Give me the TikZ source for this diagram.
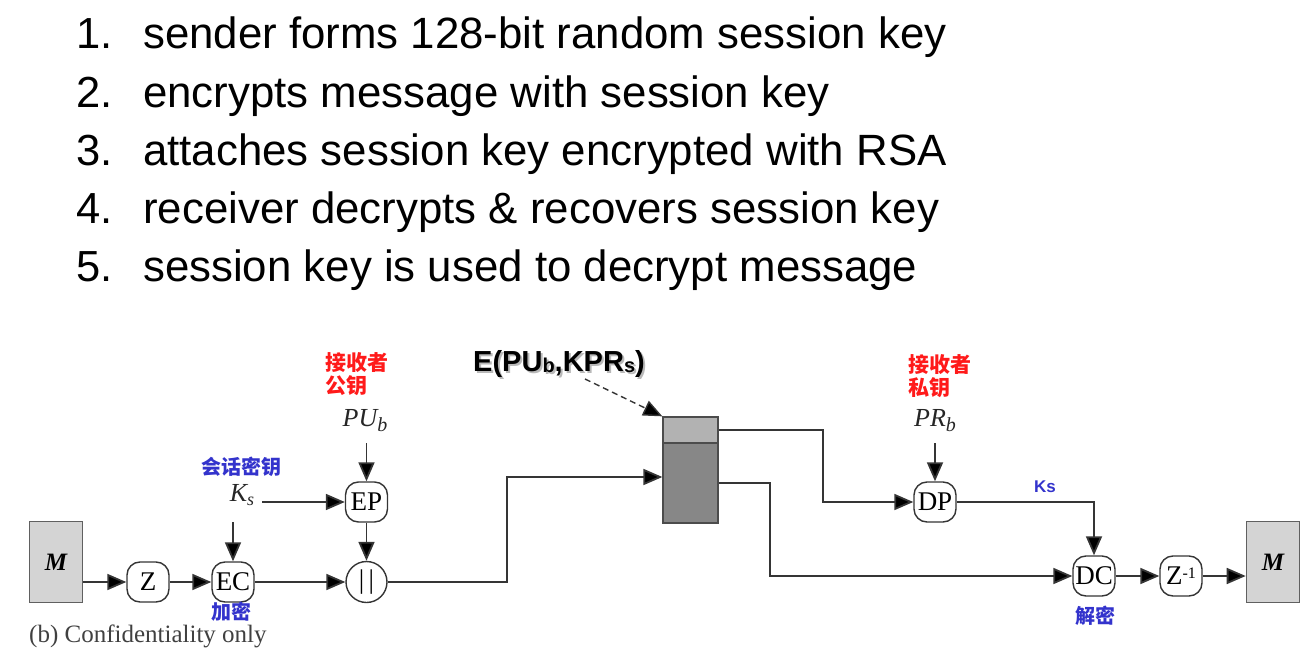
\documentclass[tikz,border=0pt]{standalone}
\usepackage{fontspec}
\setmainfont{Liberation Sans}
\newfontfamily\serif{Liberation Serif}
\newfontfamily\cjk{Noto Sans CJK SC}
\usetikzlibrary{arrows.meta,calc}
\definecolor{linegray}{HTML}{353535}
\definecolor{keyblue}{HTML}{3333CC}
\definecolor{keyred}{HTML}{FF1A1A}
\definecolor{boxgray}{HTML}{D4D4D4}
\definecolor{toplight}{HTML}{B2B2B2}
\definecolor{bodydark}{HTML}{878787}
\begin{document}
\begin{tikzpicture}[x=1pt,y=-1pt,
  listnum/.style={anchor=base west, inner sep=0pt, font=\fontsize{43.5}{50}\selectfont},
  listtxt/.style={anchor=base west, inner sep=0pt, font=\fontsize{43.8}{50}\selectfont},
  op/.style={draw=linegray, line width=1.4pt, rounded corners=13pt, fill=white,
    minimum width=42pt, minimum height=40pt, inner sep=0pt,
    font=\serif\fontsize{27}{27}\selectfont},
  msg/.style={draw=gray!75!black, fill=boxgray, line width=1.6pt,
    minimum width=53pt, minimum height=81pt, inner sep=0pt,
    font=\serif\bfseries\itshape\fontsize{25}{25}\selectfont},
  keyvar/.style={inner sep=0pt, font=\serif\itshape\fontsize{26}{26}\selectfont, text=black!85},
  cnred/.style={inner sep=0pt, align=left, anchor=north west, text=keyred,
    font=\cjk\bfseries\fontsize{21}{23}\selectfont},
  cnblue/.style={inner sep=0pt, text=keyblue, font=\cjk\bfseries\fontsize{20}{22}\selectfont},
  arrowtip/.style={-{Triangle[length=19pt,width=16pt,fill=black]}},
  flow/.style={draw=linegray, line width=1.8pt, arrowtip}]
\useasboundingbox (0,0) rectangle (1310,661);

% numbered list of steps
\node[listnum] (n1) at (76,49)  {1.};
\node[listtxt] (t1) at (143,49) {sender forms 128-bit random session key};
\node[listnum] (n2) at (76,107) {2.};
\node[listtxt] (t2) at (143,107) {encrypts message with session key};
\node[listnum] (n3) at (76,165) {3.};
\node[listtxt] (t3) at (143,165) {attaches session key encrypted with RSA};
\node[listnum] (n4) at (76,223) {4.};
\node[listtxt] (t4) at (143,223) {receiver decrypts \& recovers session key};
\node[listnum] (n5) at (76,281) {5.};
\node[listtxt] (t5) at (143,281) {session key is used to decrypt message};

% sender side
\node[msg] (m1) at (56,562) {M};
\node[op] (z) at (148,582) {Z};
\node[op] (ec) at (233,582) {EC};
\node[op, circle, minimum size=41pt, rounded corners=0pt] (cat) at (366.5,582) {|\,|};
\node[op] (ep) at (366.5,502) {EP};
\node[keyvar] (ks) at (242,495) {K\raisebox{-4pt}{\fontsize{18}{18}\selectfont s}};
\node[keyvar] (pub) at (365,421) {PU\raisebox{-5pt}{\fontsize{20}{20}\selectfont b}};
\node[cnblue] (ksname) at (241,467) {会话密钥};
\node[cnblue] (enc) at (231,612) {加密};
\node[inner sep=0pt, anchor=west, text=black!75, font=\serif\fontsize{25}{26}\selectfont]
  (cap) at (29,636) {(b) Confidentiality only};
\node[cnred] (pubname) at (325,352) {接收者\\公钥};

% packet: encrypted session key on top of encrypted message
\node[draw=gray!60!black, fill=toplight, line width=1.3pt, minimum width=55pt,
  minimum height=26pt, inner sep=0pt] (pkttop) at (690.5,430) {};
\node[draw=gray!60!black, fill=bodydark, line width=1.3pt, minimum width=55pt,
  minimum height=80pt, inner sep=0pt] (pktbody) at (690.5,483) {};

\node[inner sep=0pt, text=gray!55, font=\bfseries\fontsize{29}{29}\selectfont]
  (epkshadow) at (561,366) {E(PU\raisebox{-1pt}{\fontsize{20}{20}\selectfont b},KPR\raisebox{-1pt}{\fontsize{20}{20}\selectfont s})};
\node[inner sep=0pt, font=\bfseries\fontsize{29}{29}\selectfont]
  (epk) at (559,364) {E(PU\raisebox{-1pt}{\fontsize{20}{20}\selectfont b},KPR\raisebox{-1pt}{\fontsize{20}{20}\selectfont s})};
\coordinate (dstart) at (585,379);

% receiver side
\node[op] (dp) at (935,502) {DP};
\node[keyvar] (prb) at (935,421) {PR\raisebox{-5pt}{\fontsize{20}{20}\selectfont b}};
\node[cnred] (prbname) at (908,354) {接收者\\私钥};
\node[op] (dc) at (1094,576) {DC};
\node[op] (zinv) at (1181,576) {Z\raisebox{6pt}{\fontsize{16}{16}\selectfont -1}};
\node[msg] (m2) at (1273,562) {M};
\node[inner sep=0pt, text=keyblue, font=\bfseries\fontsize{17}{17}\selectfont] (kslabel) at (1045,487) {Ks};
\node[cnblue] (dec) at (1095,616) {解密};

% sender connectors
\draw[flow] (m1.east |- z.west) -- (z.west);
\draw[flow] (z.east) -- (ec.west);
\draw[flow] (ec.east) -- (cat.west);
\draw[flow] (ec.north |- 0,522) -- (ec.north);
\draw[flow] (262,502) -- (ep.west);
\draw[flow] (ep.north |- 0,443) -- (ep.north);
\draw[flow] (ep.south) -- (cat.north);
\draw[flow] (cat.east) -- (507,582) -- (507,477) -- (pktbody.west |- 0,477);
\draw[draw=linegray, line width=1.4pt, dash pattern=on 6pt off 4pt, arrowtip]
  (dstart) -- (pkttop.north west);

% receiver connectors
\draw[flow] (pkttop.east) -- (823,430) |- (dp.west);
\draw[flow] (pktbody.east) -- (770,483) |- (dc.west);
\draw[flow] (dp.north |- 0,443) -- (dp.north);
\draw[flow] (dp.east) -| (dc.north);
\draw[flow] (dc.east) -- (zinv.west);
\draw[flow] (zinv.east) -- (m2.west |- zinv.east);
\end{tikzpicture}
\end{document}
